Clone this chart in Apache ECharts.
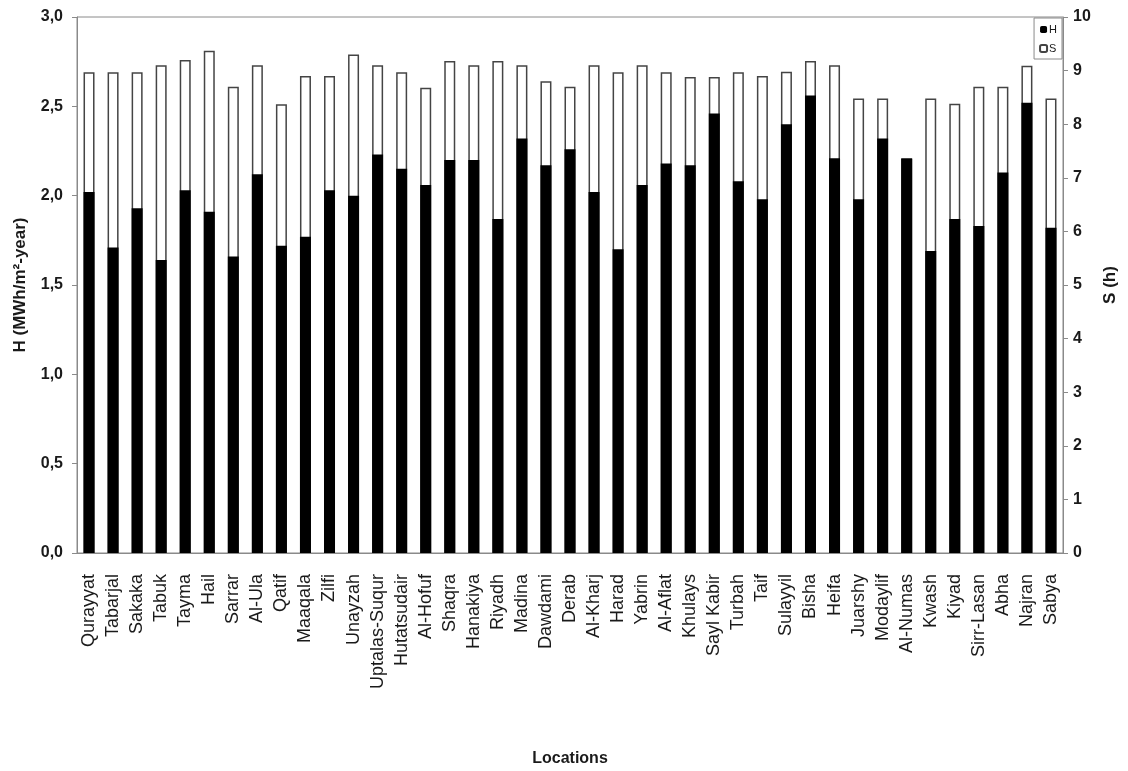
<!DOCTYPE html>
<html>
<head>
<meta charset="utf-8">
<script src="https://cdn.jsdelivr.net/npm/echarts@6/dist/echarts.min.js"></script>
<style>
html,body{margin:0;padding:0;background:#fff;}
#main{width:1128px;height:771px;}
</style>
</head>
<body>
<div id="main"></div>
<script>
var locations = ['Qurayyat','Tabarjal','Sakaka','Tabuk','Tayma','Hail','Sarrar','Al-Ula','Qatif','Maaqala',
  'Zilfi','Unayzah','Uptalas-Suqur','Hutatsudair','Al-Hofuf','Shaqra','Hanakiya','Riyadh','Madina','Dawdami',
  'Derab','Al-Kharj','Harad','Yabrin','Al-Aflat','Khulays','Sayl Kabir','Turbah','Taif','Sulayyil',
  'Bisha','Heifa','Juarshy','Modaylif','Al-Numas','Kwash','Kiyad','Sirr-Lasan','Abha','Najran','Sabya'];

// H, MWh/m2-year (left axis)
var hValues = [2.02,1.71,1.93,1.64,2.03,1.91,1.66,2.12,1.72,1.77,
  2.03,2.00,2.23,2.15,2.06,2.20,2.20,1.87,2.32,2.17,
  2.26,2.02,1.70,2.06,2.18,2.17,2.46,2.08,1.98,2.40,
  2.56,2.21,1.98,2.32,2.21,1.69,1.87,1.83,2.13,2.52,1.82];

// S, hours (right axis)
var sValues = [8.97,8.97,8.97,9.1,9.2,9.37,8.7,9.1,8.37,8.9,
  8.9,9.3,9.1,8.97,8.68,9.18,9.1,9.18,9.1,8.8,
  8.7,9.1,8.97,9.1,8.97,8.88,8.88,8.97,8.9,8.98,
  9.18,9.1,8.48,8.48,7.35,8.48,8.38,8.7,8.7,9.09,8.48];

var leftTicks = {min:0, max:3, interval:0.5};
var rightTicks = {min:0, max:10, interval:1};

var axisGray = '#8a8a8a';
var txt = '#1a1a1a';

var myChart = echarts.init(document.getElementById('main'));
var option = {
  animation: false,
  backgroundColor: '#fff',
  textStyle: {fontFamily: 'Liberation Sans, Arial, sans-serif'},
  grid: {
    left: 77, right: 65, top: 17, bottom: 218,
    outerBoundsMode: 'none',
    show: true, borderColor: axisGray, borderWidth: 1
  },
  legend: {
    data: ['H','S'],
    orient: 'vertical',
    right: 66, top: 18,
    itemWidth: 7, itemHeight: 7, itemGap: 8,
    padding: [6,5,5,5],
    borderColor: axisGray, borderWidth: 1,
    textStyle: {fontSize: 11, color: txt, padding: [0,0,0,-3]}
  },
  xAxis: {
    type: 'category',
    data: locations,
    name: 'Locations',
    nameLocation: 'middle',
    nameGap: 198,
    nameTextStyle: {fontSize: 16, fontWeight: 'bold', color: txt},
    axisLine: {lineStyle: {color: axisGray}},
    axisTick: {length: 5, lineStyle: {color: axisGray}},
    axisLabel: {rotate: 90, fontSize: 18, color: txt, margin: 21, interval: 0}
  },
  yAxis: [
    {
      type: 'value',
      min: leftTicks.min, max: leftTicks.max, interval: leftTicks.interval,
      name: 'H (MWh/m²-year)',
      nameLocation: 'middle',
      nameRotate: 90,
      nameGap: 48,
      nameTextStyle: {fontSize: 17, fontWeight: 'bold', color: txt},
      axisLine: {show: true, lineStyle: {color: axisGray}},
      axisTick: {show: true, length: 5, lineStyle: {color: axisGray}},
      splitLine: {show: false},
      axisLabel: {
        fontSize: 16, fontWeight: 'bold', color: txt, margin: 14,
        formatter: function(v){ return v.toFixed(1).replace('.', ','); }
      }
    },
    {
      type: 'value',
      position: 'right',
      min: rightTicks.min, max: rightTicks.max, interval: rightTicks.interval,
      name: 'S (h)',
      nameLocation: 'middle',
      nameRotate: 90,
      nameGap: 38,
      nameTextStyle: {fontSize: 17, fontWeight: 'bold', color: txt},
      axisLine: {show: true, lineStyle: {color: axisGray}},
      axisTick: {show: true, length: 5, lineStyle: {color: axisGray}},
      splitLine: {show: false},
      axisLabel: {fontSize: 16, fontWeight: 'bold', color: txt, margin: 10}
    }
  ],
  series: [
    {
      name: 'H',
      type: 'bar',
      yAxisIndex: 0,
      data: hValues,
      barWidth: 11,
      barGap: '-100%',
      z: 3,
      itemStyle: {color: '#000'}
    },
    {
      name: 'S',
      type: 'bar',
      yAxisIndex: 1,
      data: sValues,
      barWidth: 11,
      barGap: '-100%',
      z: 2,
      itemStyle: {color: '#fff', borderColor: '#444', borderWidth: 1.5}
    }
  ]
};
myChart.setOption(option);
</script>
</body>
</html>
